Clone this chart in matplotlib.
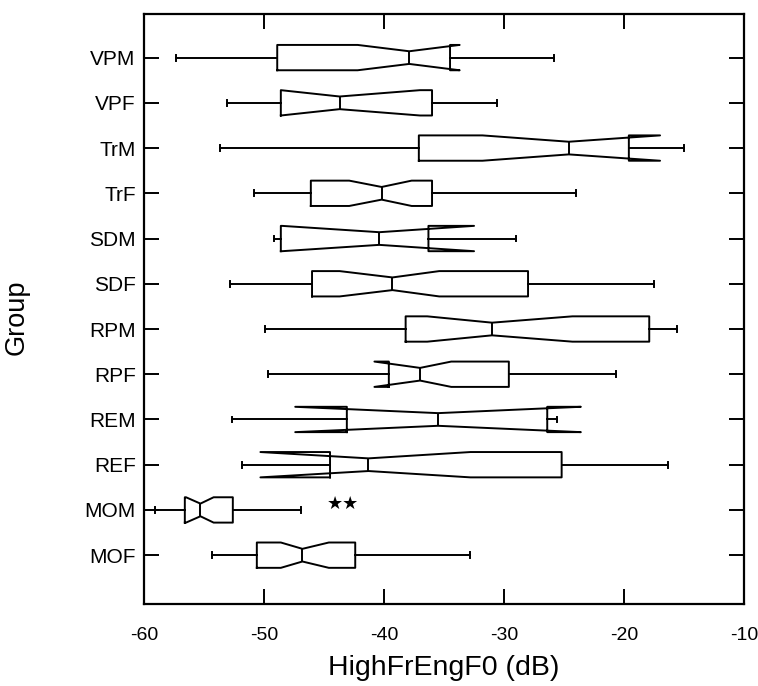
import matplotlib
matplotlib.use("Agg")
import matplotlib.pyplot as plt

plt.rcParams['font.family'] = ['Liberation Sans', 'DejaVu Sans']
plt.rcParams['axes.unicode_minus'] = False

# groups, bottom to top
groups = ['MOF', 'MOM', 'REF', 'REM', 'RPF', 'RPM', 'SDF', 'SDM', 'TrF', 'TrM', 'VPF', 'VPM']

# values (dB)
whis_lo = [-54.3, -59.1, -51.8, -52.7, -49.7, -49.9, -52.8, -49.2, -50.8, -53.7, -53.1, -57.3]
q1 = [-50.6, -56.6, -44.5, -43.1, -39.6, -38.2, -46.0, -48.6, -46.1, -37.1, -48.6, -48.9]
median = [-46.8, -55.3, -41.3, -35.5, -37.0, -31.0, -39.3, -40.4, -40.2, -24.6, -43.7, -37.9]
q3 = [-42.4, -52.6, -25.2, -26.4, -29.6, -17.9, -28.0, -36.3, -36.0, -19.6, -36.0, -34.5]
whis_hi = [-32.8, -46.9, -16.3, -25.6, -20.7, -15.6, -17.5, -29.0, -24.0, -15.0, -30.6, -25.8]
notch_lo = [-48.6, -56.5, -50.3, -47.4, -40.8, -36.4, -43.7, -48.5, -42.9, -31.8, -48.6, -42.2]
notch_hi = [-44.6, -54.2, -32.8, -23.6, -34.4, -24.3, -35.4, -32.5, -37.7, -17.0, -37.0, -33.7]

stats = []
for i in range(len(groups)):
    stats.append({
        'label': groups[i],
        'whislo': whis_lo[i], 'q1': q1[i], 'med': median[i],
        'q3': q3[i], 'whishi': whis_hi[i],
        'cilo': notch_lo[i], 'cihi': notch_hi[i],
        'fliers': [],
    })

fig = plt.figure(figsize=(7.58, 6.86), dpi=100)
ax = fig.add_axes([0.19, 0.1195, 0.7916, 0.8605])

lw = 1.4
ax.bxp(stats, positions=range(1, len(groups) + 1), orientation='horizontal',
       shownotches=True, widths=0.56, capwidths=0.13, showfliers=False,
       boxprops=dict(color='black', linewidth=lw),
       whiskerprops=dict(color='black', linewidth=lw),
       capprops=dict(color='black', linewidth=lw),
       medianprops=dict(color='black', linewidth=lw))

# significance mark next to MOM
ax.text(-43.4, 2.13, '\u2605\u2605', fontsize=13, ha='center', va='center',
        family='DejaVu Sans')

ax.set_xlim(-60, -10)
ax.set_ylim(-0.08, 12.97)
ax.set_xticks([-60, -50, -40, -30, -20, -10])
ax.set_yticks(range(1, len(groups) + 1))
ax.set_yticklabels(groups)

ax.tick_params(axis='both', direction='in', length=10.5, width=1.4,
               top=True, right=True)
ax.tick_params(axis='x', pad=16.5, labelsize=14)
ax.tick_params(axis='y', pad=6, labelsize=15)
for s in ax.spines.values():
    s.set_linewidth(1.6)

ax.set_xlabel('HighFrEngF0 (dB)', fontsize=20.5, labelpad=8)
ax.set_ylabel('Group', fontsize=19.5)
ax.yaxis.set_label_coords(-0.19, 0.485)

fig.savefig('out.png', dpi=100)
